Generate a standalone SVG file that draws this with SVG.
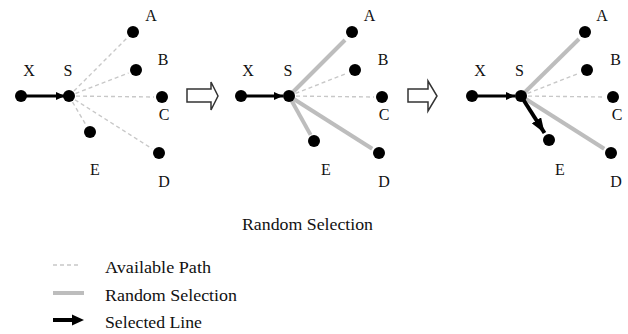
<svg xmlns="http://www.w3.org/2000/svg" width="628" height="334" viewBox="0 0 628 334">
<defs>
<style>
.lbl{font-family:"Liberation Serif","Times New Roman",serif;font-size:16px;fill:#111;text-anchor:middle}
.txt{font-family:"Liberation Serif","Times New Roman",serif;font-size:17px;fill:#111}
.dot{fill:#000}
.dash{stroke:#c8c8c8;stroke-width:1.4;stroke-dasharray:4 3;fill:none}
.rand{stroke:#bdbdbd;stroke-width:4;fill:none}
.sel{stroke:#000;stroke-width:3;fill:none}
.sel2{stroke:#000;stroke-width:4;fill:none}
.hollow{fill:#fff;stroke:#333;stroke-width:1.5;stroke-linejoin:miter}
</style>
<marker id="ah" markerUnits="userSpaceOnUse" markerWidth="9" markerHeight="8" refX="9" refY="4" orient="auto"><path d="M0,0 L9,4 L0,8 Z" fill="#000"/></marker>
<marker id="ahBig" markerUnits="userSpaceOnUse" markerWidth="15" markerHeight="11" refX="15" refY="5.5" orient="auto"><path d="M0,0 L15,5.5 L0,11 Z" fill="#000"/></marker>
</defs>

<g id="connectors">
<!-- panel 1 -->
<line class="sel" x1="21" y1="96" x2="65" y2="96" marker-end="url(#ah)"/>
<line class="dash" x1="69" y1="96" x2="127" y2="38"/>
<line class="dash" x1="69" y1="96" x2="128.5" y2="73"/>
<line class="dash" x1="69" y1="96" x2="154" y2="97"/>
<line class="dash" x1="69" y1="96" x2="86" y2="125"/>
<line class="dash" x1="69" y1="96" x2="152" y2="148.7"/>
<!-- panel 2 -->
<line class="sel" x1="241" y1="96" x2="283" y2="96" marker-end="url(#ah)"/>
<line class="rand" x1="289" y1="96" x2="345" y2="40"/>
<line class="dash" x1="289" y1="96" x2="347.6" y2="73"/>
<line class="dash" x1="289" y1="96" x2="374" y2="97"/>
<line class="rand" x1="289" y1="96" x2="310.6" y2="134.9"/>
<line class="rand" x1="289" y1="96" x2="372.2" y2="148.7"/>
<!-- panel 3 -->
<line class="sel" x1="472" y1="96" x2="515" y2="96" marker-end="url(#ah)"/>
<line class="rand" x1="521" y1="96" x2="579" y2="39"/>
<line class="dash" x1="521" y1="96" x2="579.6" y2="73"/>
<line class="dash" x1="521" y1="96" x2="605" y2="97"/>
<line class="rand" x1="521" y1="96" x2="604.2" y2="148.7"/>
<line class="sel2" x1="521" y1="96" x2="544.5" y2="133" marker-end="url(#ahBig)"/>
<!-- step arrows -->
<path class="hollow" d="M187,89 L211,89 L211,82 L218,96 L211,110 L211,102 L187,102 Z"/>
<path class="hollow" d="M408,89 L428,89 L428,81 L437,96 L428,111 L428,102 L408,102 Z"/>
</g>

<g id="panel1">
<g id="p1-X"><circle class="dot" cx="21" cy="96" r="6"/><text class="lbl" x="29" y="76">X</text></g>
<g id="p1-S"><circle class="dot" cx="69" cy="96" r="6"/><text class="lbl" x="68" y="76">S</text></g>
<g id="p1-A"><circle class="dot" cx="133" cy="32" r="6"/><text class="lbl" x="151" y="21">A</text></g>
<g id="p1-B"><circle class="dot" cx="136" cy="70" r="6"/><text class="lbl" x="163" y="65">B</text></g>
<g id="p1-C"><circle class="dot" cx="162" cy="97" r="6"/><text class="lbl" x="164" y="120">C</text></g>
<g id="p1-E"><circle class="dot" cx="90" cy="132" r="6"/><text class="lbl" x="95" y="175">E</text></g>
<g id="p1-D"><circle class="dot" cx="159" cy="153" r="6"/><text class="lbl" x="164" y="187">D</text></g>
</g>

<g id="panel2">
<g id="p2-X"><circle class="dot" cx="241" cy="96" r="6"/><text class="lbl" x="248" y="76">X</text></g>
<g id="p2-S"><circle class="dot" cx="289" cy="96" r="6"/><text class="lbl" x="288" y="76">S</text></g>
<g id="p2-A"><circle class="dot" cx="352" cy="32" r="6"/><text class="lbl" x="369.5" y="21">A</text></g>
<g id="p2-B"><circle class="dot" cx="355" cy="70" r="6"/><text class="lbl" x="383" y="65">B</text></g>
<g id="p2-C"><circle class="dot" cx="382" cy="97" r="6"/><text class="lbl" x="384" y="120">C</text></g>
<g id="p2-E"><circle class="dot" cx="314" cy="141" r="6"/><text class="lbl" x="326" y="175">E</text></g>
<g id="p2-D"><circle class="dot" cx="379" cy="153" r="6"/><text class="lbl" x="384" y="187">D</text></g>
</g>

<g id="panel3">
<g id="p3-X"><circle class="dot" cx="472" cy="96" r="6"/><text class="lbl" x="480" y="76">X</text></g>
<g id="p3-S"><circle class="dot" cx="521" cy="96" r="6"/><text class="lbl" x="519.5" y="76">S</text></g>
<g id="p3-A"><circle class="dot" cx="585" cy="32" r="6"/><text class="lbl" x="602" y="21">A</text></g>
<g id="p3-B"><circle class="dot" cx="587" cy="70" r="6"/><text class="lbl" x="615.5" y="65">B</text></g>
<g id="p3-C"><circle class="dot" cx="613" cy="97" r="6"/><text class="lbl" x="617" y="120">C</text></g>
<g id="p3-E"><circle class="dot" cx="549" cy="140" r="6"/><text class="lbl" x="560" y="175">E</text></g>
<g id="p3-D"><circle class="dot" cx="611" cy="153" r="6"/><text class="lbl" x="616" y="187">D</text></g>
</g>

<g id="title"><text class="txt" x="242" y="230" textLength="131" lengthAdjust="spacingAndGlyphs">Random Selection</text></g>

<g id="legend">
<line class="dash" x1="53" y1="265" x2="80" y2="265"/>
<text class="txt" x="105" y="273" textLength="106" lengthAdjust="spacingAndGlyphs">Available Path</text>
<line class="rand" x1="53" y1="293" x2="84" y2="293"/>
<text class="txt" x="105" y="301" textLength="132" lengthAdjust="spacingAndGlyphs">Random Selection</text>
<line class="sel2" x1="53" y1="320" x2="73" y2="320"/>
<path d="M72,314.5 L84,320 L72,325.5 Z" fill="#000"/>
<text class="txt" x="105" y="328" textLength="97" lengthAdjust="spacingAndGlyphs">Selected Line</text>
</g>
</svg>
